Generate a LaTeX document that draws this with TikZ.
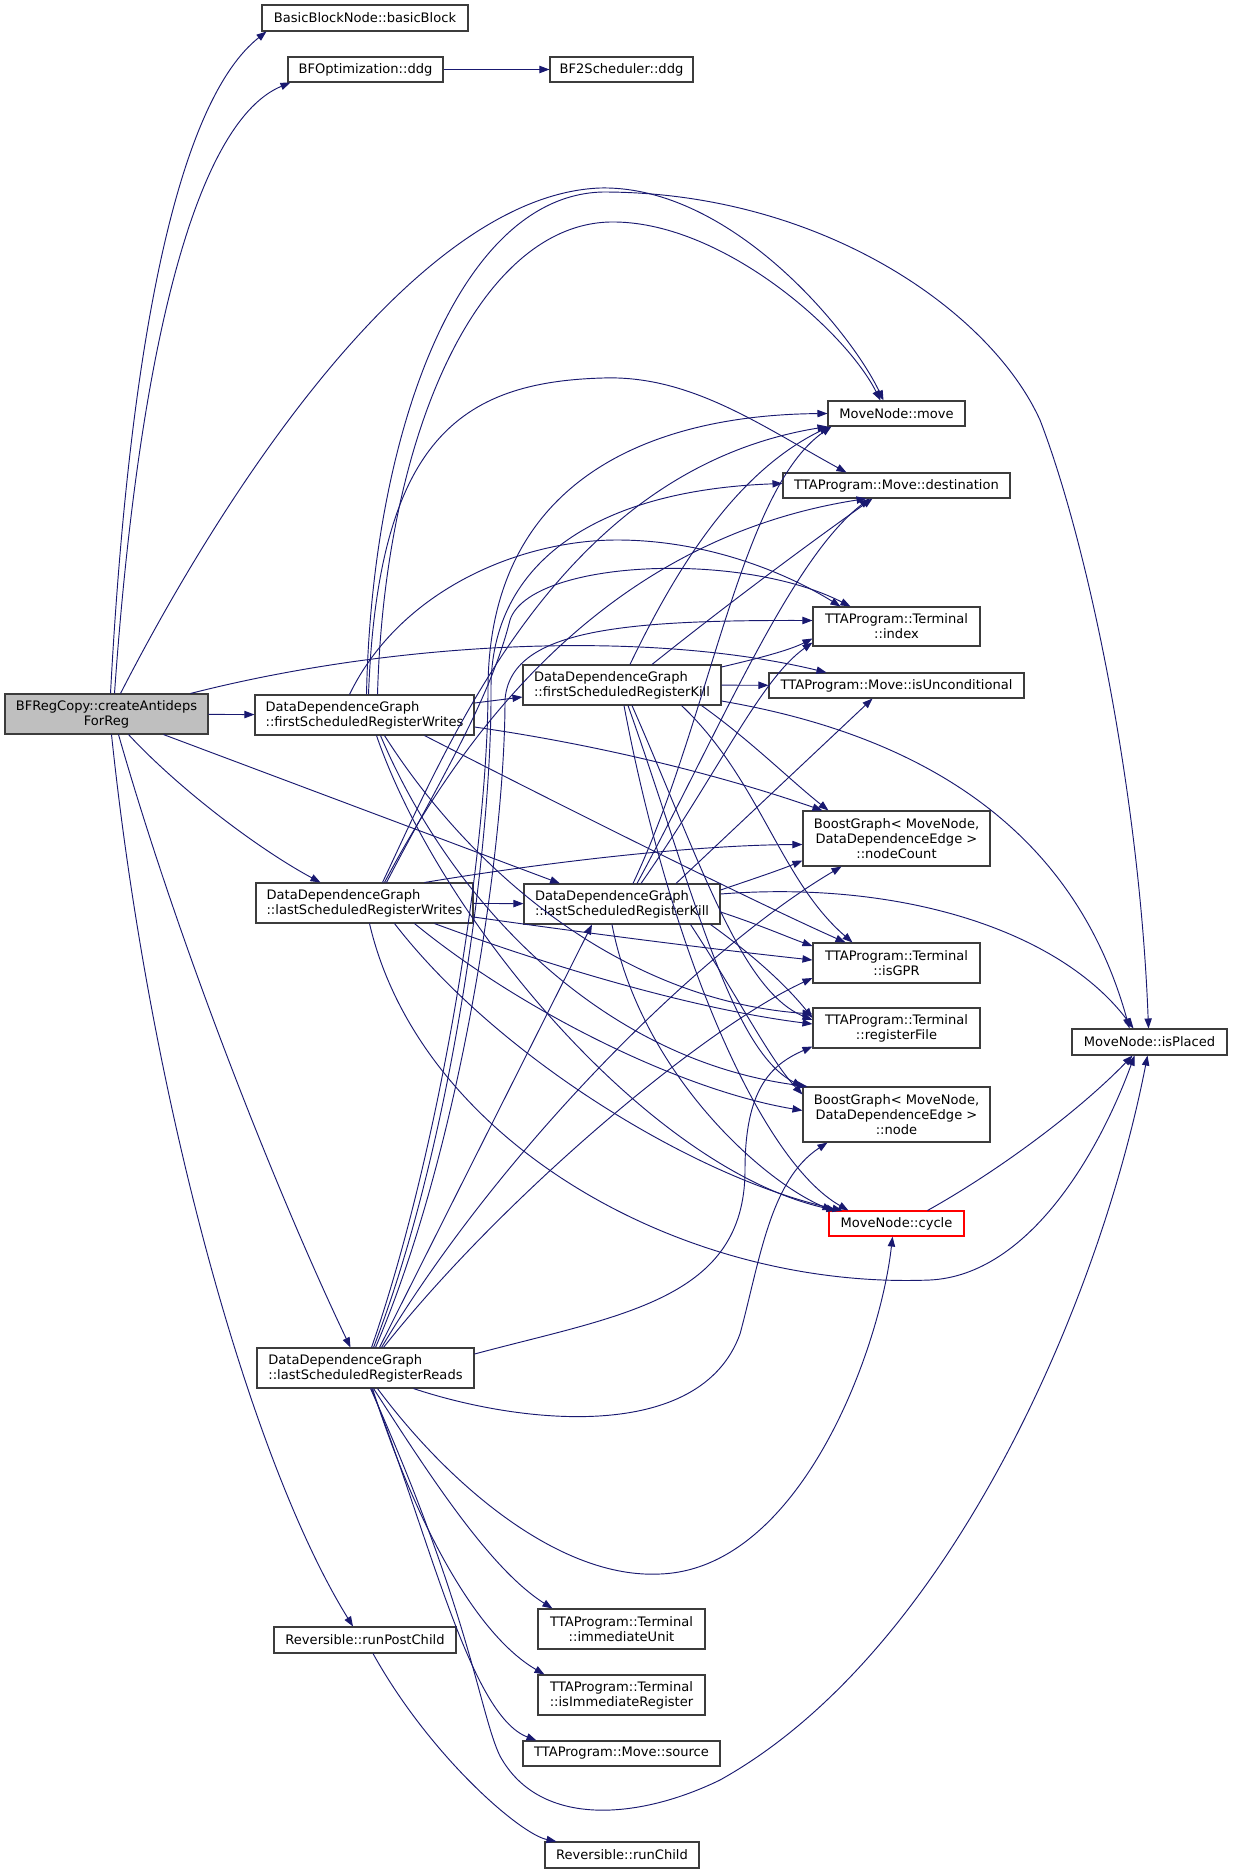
\documentclass[tikz,border=0pt]{standalone}
\usepackage{fontspec}
\setmainfont{DejaVu Sans}
\usetikzlibrary{arrows.meta,calc}
\definecolor{edgeblue}{RGB}{25,25,112}
\definecolor{boxline}{RGB}{60,60,60}
\definecolor{rootfill}{RGB}{191,191,191}

\begin{document}
\begin{tikzpicture}[x=0.75pt,y=-0.75pt,
    fn/.style={draw=boxline,line width=0.8pt,fill=white,inner sep=0pt,align=center,
      font=\fontsize{9.8}{11.2}\selectfont},
    sz/.style 2 args={minimum width=#1*0.75pt,minimum height=#2*0.75pt},
    call/.style={draw=edgeblue,line width=0.7pt,-{Triangle[length=7.5pt,width=5.5pt]}}]
        \path[use as bounding box,fill=white] (0,0) rectangle (1232,1873);
        \draw
        (106.5,714) node[fn,sz={203}{40},fill=rootfill] (A){BFRegCopy::createAntideps\\ForReg}
        (365,18) node[fn,sz={206}{26}] (basic){BasicBlockNode::basicBlock}
        (365.5,69.5) node[fn,sz={155}{25}] (bfopt){BFOptimization::ddg}
        (621.5,69.5) node[fn,sz={143}{25}] (bfsched){BF2Scheduler::ddg}
        (364.5,715) node[fn,sz={219}{40},align=left] (FW){DataDependenceGraph\\::firstScheduledRegisterWrites}
        (364.5,903) node[fn,sz={217}{40},align=left] (LW){DataDependenceGraph\\::lastScheduledRegisterWrites}
        (365.5,1368) node[fn,sz={217}{40},align=left] (LR){DataDependenceGraph\\::lastScheduledRegisterReads}
        (622,685) node[fn,sz={198}{40},align=left] (FK){DataDependenceGraph\\::firstScheduledRegisterKill}
        (622,904) node[fn,sz={196}{40},align=left] (LK){DataDependenceGraph\\::lastScheduledRegisterKill}
        (365,1640) node[fn,sz={182}{26}] (runpost){Reversible::runPostChild}
        (622,1855) node[fn,sz={154}{26}] (runchild){Reversible::runChild}
        (896.5,413.5) node[fn,sz={137}{25}] (move){MoveNode::move}
        (896.5,485.5) node[fn,sz={227}{25}] (dest){TTAProgram::Move::destination}
        (896.5,626.5) node[fn,sz={167}{39}] (index){TTAProgram::Terminal\\::index}
        (896.5,685.5) node[fn,sz={255}{25}] (uncond){TTAProgram::Move::isUnconditional}
        (896.5,838.5) node[fn,sz={187}{55}] (ncount){BoostGraph< MoveNode,\\DataDependenceEdge >\\::nodeCount}
        (896.5,963) node[fn,sz={167}{40}] (gpr){TTAProgram::Terminal\\::isGPR}
        (896.5,1028) node[fn,sz={167}{40}] (rfile){TTAProgram::Terminal\\::registerFile}
        (896.5,1114.5) node[fn,sz={187}{55}] (bnode){BoostGraph< MoveNode,\\DataDependenceEdge >\\::node}
        (896.5,1223.5) node[fn,sz={135}{25},draw=red] (cycle){MoveNode::cycle}
        (1149.5,1042) node[fn,sz={155}{26}] (placed){MoveNode::isPlaced}
        (621.5,1629) node[fn,sz={167}{40}] (iunit){TTAProgram::Terminal\\::immediateUnit}
        (621.5,1695) node[fn,sz={167}{40}] (ireg){TTAProgram::Terminal\\::isImmediateRegister}
        (621.5,1753.5) node[fn,sz={197}{25}] (source){TTAProgram::Move::source};
      \begin{scope}[call]
        \draw ($(A.north)+(4,0)$) .. controls (130,330) and (180,100) .. ($(basic.south west)+(5,0)$);
        \draw ($(A.north)+(8,0)$) .. controls (140,330) and (200,120) .. ($(bfopt.south west)+(3,0)$);
        \draw (bfopt) -- (bfsched);
        \draw ($(A.north)+(14,0)$) .. controls (230,480) and (420,195) .. (600,188) .. controls (730,185) and (850,330) .. ($(move.north)+(-13,0)$);
        \draw ($(A.north)+(84,0)$) .. controls (400,640) and (650,630) .. ($(uncond.north west)+(58,0)$);
        \draw (A) -- (FW);
        \draw ($(A.south)+(22,0)$) .. controls (180,790) and (260,850) .. ($(LW.north)+(-44,0)$);
        \draw ($(A.south)+(57,0)$) -- ($(LK.north)+(-62,0)$);
        \draw ($(A.south)+(12,0)$) .. controls (180,950) and (280,1200) .. ($(LR.north)+(-15,0)$);
        \draw ($(A.south)+(5,0)$) .. controls (150,1100) and (250,1460) .. ($(runpost.north)+(-12,0)$);
        \draw ($(runpost.south)+(8,0)$) .. controls (430,1756) and (520,1834) .. ($(runchild.north west)+(12,0)$);

        \draw ($(FW.east)+(0,-12)$) -- ($(FK.west)+(0,12)$);
        \draw ($(FW.north)+(2,0)$) .. controls (372,430) and (460,195) .. (603,192) .. controls (820,192) and (990,310) .. (1040,420) .. controls (1090,550) and (1140,800) .. ($(placed.north)+(-1,0)$);
        \draw ($(FW.north)+(13,0)$) .. controls (385,430) and (480,225) .. (610,222) .. controls (720,220) and (845,330) .. ($(move.north)+(-16,0)$);
        \draw ($(FW.north)+(4,0)$) .. controls (378,440) and (460,382) .. (603,378) .. controls (690,375) and (760,425) .. ($(dest.north)+(-50,0)$);
        \draw ($(FW.north)+(-15,0)$) .. controls (400,590) and (520,540) .. (617,540) .. controls (710,540) and (790,575) .. ($(index.north)+(-56,0)$);
        \draw ($(FW.east)+(0,12)$) .. controls (600,745) and (720,775) .. ($(ncount.north west)+(20,0)$);
        \draw ($(FW.south)+(60,0)$) .. controls (550,800) and (750,900) .. ($(gpr.north)+(-51,0)$);
        \draw ($(FW.south)+(20,0)$) .. controls (470,870) and (620,1000) .. ($(rfile.west)+(0,-14)$);
        \draw ($(FW.south)+(16,0)$) .. controls (450,900) and (600,1060) .. ($(bnode.north west)+(5,0)$);
        \draw ($(FW.south)+(12,0)$) .. controls (440,920) and (650,1170) .. ($(cycle.north west)+(8,0)$);

        \draw (LW) -- (LK);
        \draw ($(LW.north)+(18,0)$) .. controls (450,740) and (560,470) .. (move.south west);
        \draw ($(LW.north)+(20,0)$) .. controls (460,740) and (600,540) .. ($(dest.south)+(-30,0)$);
        \draw ($(LW.north)+(22,0)$) .. controls (440,780) and (490,700) .. (510,620) .. controls (530,560) and (740,550) .. ($(index.north)+(-46,0)$);
        \draw ($(LW.north)+(60,0)$) .. controls (560,860) and (700,845) .. ($(ncount.west)+(0,6)$);
        \draw ($(LW.east)+(0,14)$) .. controls (600,935) and (720,950) .. ($(gpr.west)+(0,-3)$);
        \draw ($(LW.south)+(70,0)$) .. controls (560,970) and (700,1010) .. ($(rfile.west)+(0,-4)$);
        \draw ($(LW.south)+(50,0)$) .. controls (520,1010) and (680,1090) .. ($(bnode.west)+(0,-4)$);
        \draw ($(LW.south)+(30,0)$) .. controls (500,1060) and (700,1180) .. ($(cycle.north west)+(14,0)$);
        \draw ($(LW.south)+(5,0)$) .. controls (420,1140) and (680,1290) .. (930,1280) .. controls (1030,1275) and (1100,1150) .. ($(placed.south)+(-15,0)$);

        \draw ($(FK.north)+(8,0)$) .. controls (680,560) and (740,470) .. ($(move.south west)+(2,0)$);
        \draw ($(FK.north)+(30,0)$) .. controls (720,610) and (800,550) .. ($(dest.south)+(-24,0)$);
        \draw ($(FK.east)+(0,-18)$) .. controls (760,658) and (790,650) .. ($(index.west)+(0,12)$);
        \draw (FK) -- (uncond);
        \draw ($(FK.east)+(0,16)$) .. controls (950,740) and (1080,850) .. ($(placed.north)+(-20,0)$);
        \draw ($(FK.south east)+(-20,0)$) .. controls (750,740) and (790,780) .. ($(ncount.north west)+(26,0)$);
        \draw ($(FK.south east)+(-40,0)$) .. controls (760,780) and (780,880) .. ($(gpr.north)+(-44,0)$);
        \draw ($(FK.south)+(10,0)$) .. controls (700,860) and (740,990) .. ($(rfile.west)+(0,-8)$);
        \draw ($(FK.south)+(6,0)$) .. controls (690,880) and (730,1050) .. (bnode.north west);
        \draw ($(FK.south)+(2,0)$) .. controls (670,950) and (760,1160) .. ($(cycle.north west)+(20,0)$);

        \draw ($(LK.north)+(11,0)$) .. controls (710,720) and (740,490) .. ($(move.south west)+(4,0)$);
        \draw ($(LK.north)+(15,0)$) .. controls (720,730) and (790,560) .. ($(dest.south)+(-27,0)$);
        \draw ($(LK.north)+(19,0)$) .. controls (720,770) and (760,680) .. ($(index.west)+(0,16)$);
        \draw ($(LK.north)+(54,0)$) -- ($(uncond.south)+(-24,0)$);
        \draw ($(LK.east)+(0,-14)$) .. controls (750,880) and (780,870) .. ($(ncount.west)+(0,22)$);
        \draw ($(LK.east)+(0,-10)$) .. controls (900,880) and (1060,930) .. ($(placed.north)+(-16,0)$);
        \draw ($(LK.east)+(0,8)$) .. controls (760,925) and (790,938) .. ($(gpr.west)+(0,-17)$);
        \draw ($(LK.south east)+(-10,0)$) .. controls (760,960) and (790,990) .. ($(rfile.west)+(0,-10)$);
        \draw ($(LK.south east)+(-30,0)$) .. controls (740,1000) and (770,1060) .. ($(bnode.west)+(0,-20)$);
        \draw ($(LK.south)+(-10,0)$) .. controls (640,1070) and (760,1180) .. ($(cycle.north west)+(4,0)$);

        \draw ($(LR.north)+(14,0)$) -- ($(LK.south)+(-30,0)$);
        \draw ($(LR.north)+(6,0)$) .. controls (440,1150) and (488,850) .. (488,690) .. controls (488,480) and (650,415) .. (move.west);
        \draw ($(LR.north)+(8,0)$) .. controls (450,1150) and (492,850) .. (491,690) .. controls (490,560) and (600,490) .. ($(dest.west)+(0,-2)$);
        \draw ($(LR.north)+(10,0)$) .. controls (460,1150) and (505,850) .. (505,700) .. controls (510,630) and (620,620) .. ($(index.west)+(0,-6)$);
        \draw ($(LR.north)+(16,0)$) .. controls (500,1150) and (700,950) .. ($(ncount.south)+(-55,0)$);
        \draw ($(LR.north)+(18,0)$) .. controls (500,1200) and (700,1030) .. ($(gpr.west)+(0,15)$);
        \draw ($(LR.east)+(0,-14)$) .. controls (620,1315) and (745,1300) .. (745,1170) .. controls (745,1090) and (770,1065) .. ($(rfile.south west)+(0,-2)$);
        \draw ($(LR.south)+(48,0)$) .. controls (520,1424) and (700,1444) .. (740,1334) .. controls (760,1260) and (770,1180) .. ($(bnode.south west)+(25,0)$);
        \draw ($(LR.south)+(12,0)$) .. controls (450,1486) and (560,1579) .. (660,1574) .. controls (800,1569) and (880,1350) .. ($(cycle.south)+(-4,0)$);
        \draw ($(LR.south)+(8,0)$) .. controls (430,1476) and (490,1569) .. ($(iunit.north west)+(15,0)$);
        \draw ($(LR.south)+(7,0)$) .. controls (410,1507) and (470,1631) .. ($(ireg.north west)+(7,0)$);
        \draw ($(LR.south)+(6,0)$) .. controls (430,1538) and (470,1715) .. ($(source.north west)+(14,0)$);
        \draw ($(LR.south)+(5,0)$) .. controls (470,1611) and (480,1715) .. (500,1756) .. controls (540,1829) and (640,1819) .. (720,1780) .. controls (950,1652) and (1100,1300) .. ($(placed.south)+(-2,0)$);
        \draw ($(cycle.north east)+(-37,0)$) .. controls (1000,1170) and (1080,1110) .. ($(placed.south)+(-17,0)$);
      \end{scope}

    \end{tikzpicture}
\end{document}
